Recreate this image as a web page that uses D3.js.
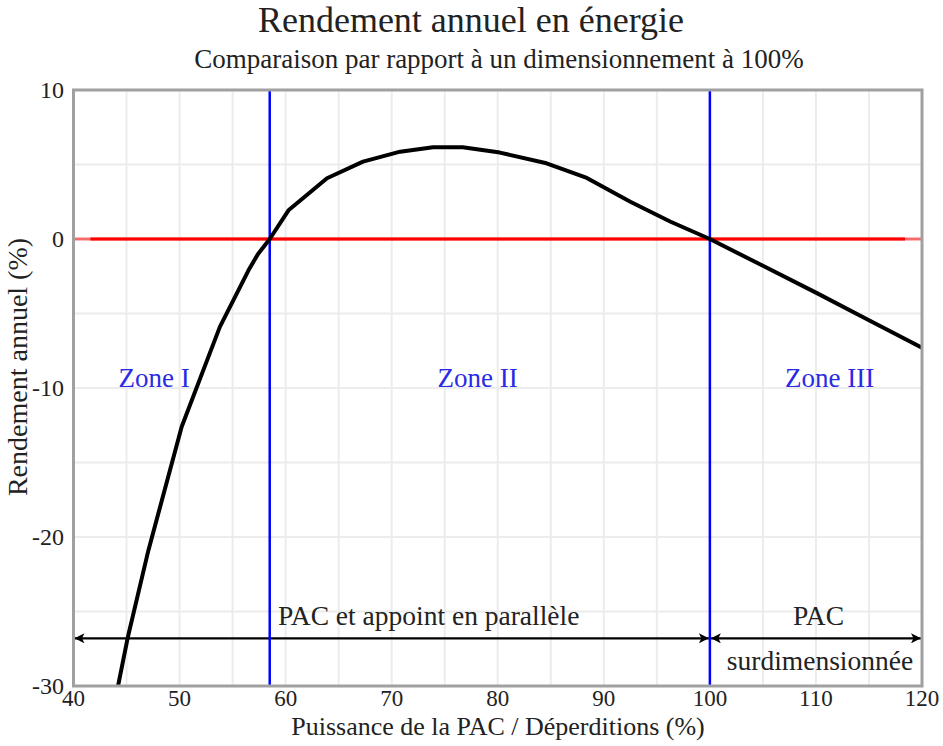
<!DOCTYPE html>
<html><head><meta charset="utf-8">
<script src="https://cdn.jsdelivr.net/npm/d3@7"></script>
<style>body{margin:0;background:#fff}svg{display:block}text{font-family:"Liberation Serif","DejaVu Serif",serif;fill:#222}</style>
</head><body><svg id="c" width="943" height="746"></svg>
<script>
const curveX = [44.2, 45.1, 47.06, 50.2, 53.8, 56.5, 57.4, 58.5, 60.3, 63.9, 67.3, 70.8, 73.9, 76.7, 80.2, 84.6, 88.4, 92.5, 96.3, 100, 105, 110, 115, 120];
const curveY = [-30, -26.8, -20.9, -12.6, -5.9, -2.1, -1.0, 0, 1.95, 4.08, 5.19, 5.86, 6.16, 6.16, 5.8, 5.08, 4.1, 2.5, 1.16, 0, -1.8, -3.6, -5.45, -7.3];
const xTicks = [40, 50, 60, 70, 80, 90, 100, 110, 120];
const yTicks = [10, 0, -10, -20, -30];
const gridX = d3.range(40, 121, 5);
const gridY = d3.range(-30, 11, 5);
const zoneBounds = [58.5, 100];
const zones = [{label: "Zone I", x: 47.6}, {label: "Zone II", x: 78.1}, {label: "Zone III", x: 111.3}];
const zoneY = -9.9;
const arrowY = -26.8;
const arrowSegs = [[40, 100], [100, 120]];

const svg = d3.select("#c");
const L = 73.5, R = 922, T = 90, B = 686;
const x = d3.scaleLinear().domain([40, 120]).range([L, R]);
const y = d3.scaleLinear().domain([-30, 10]).range([B, T]);

// grid
svg.append("g").selectAll("line").data(gridX).join("line")
  .attr("x1", d => x(d)).attr("x2", d => x(d)).attr("y1", T).attr("y2", B)
  .attr("stroke", "#ececec").attr("stroke-width", 2);
svg.append("g").selectAll("line").data(gridY).join("line")
  .attr("y1", d => y(d)).attr("y2", d => y(d)).attr("x1", L).attr("x2", R)
  .attr("stroke", "#ececec").attr("stroke-width", 2);

// red zero line
svg.append("line").attr("x1", L).attr("x2", R).attr("y1", y(0)).attr("y2", y(0))
  .attr("stroke", "#ff0000").attr("stroke-opacity", 0.55).attr("stroke-width", 3);
svg.append("line").attr("x1", x(41.6)).attr("x2", x(118.4)).attr("y1", y(0)).attr("y2", y(0))
  .attr("stroke", "#ff0000").attr("stroke-width", 3);

// arrows
const defs = svg.append("defs");
defs.append("marker").attr("id", "ah").attr("viewBox", "0 0 10 10").attr("refX", 10).attr("refY", 5)
  .attr("markerWidth", 12).attr("markerHeight", 10).attr("markerUnits", "userSpaceOnUse").attr("orient", "auto-start-reverse")
  .append("path").attr("d", "M0,0 L10,5 L0,10 L2.5,5 Z").attr("fill", "#000");
svg.append("g").selectAll("line").data(arrowSegs).join("line")
  .attr("x1", d => x(d[0]) + 1).attr("x2", d => x(d[1]) - 1).attr("y1", y(arrowY)).attr("y2", y(arrowY))
  .attr("stroke", "#000").attr("stroke-width", 2.2)
  .attr("marker-start", "url(#ah)").attr("marker-end", "url(#ah)");

// blue zone lines
svg.append("g").selectAll("line").data(zoneBounds).join("line")
  .attr("x1", d => x(d)).attr("x2", d => x(d)).attr("y1", T).attr("y2", B)
  .attr("stroke", "#0000ff").attr("stroke-width", 2.5);

// curve
const pts = curveX.map((d, i) => [d, curveY[i]]);
svg.append("defs").append("clipPath").attr("id", "clip").append("rect")
  .attr("x", L).attr("y", T).attr("width", R - L).attr("height", B - T);
svg.append("path").datum(pts).attr("clip-path", "url(#clip)")
  .attr("d", d3.line().x(d => x(d[0])).y(d => y(d[1])))
  .attr("fill", "none").attr("stroke", "#000").attr("stroke-width", 4).attr("stroke-linejoin", "round");

// frame
svg.append("rect").attr("x", L).attr("y", T).attr("width", R - L).attr("height", B - T)
  .attr("fill", "none").attr("stroke", "#a0a0a0").attr("stroke-width", 3);

// ticks
svg.append("g").selectAll("text").data(xTicks).join("text")
  .attr("x", d => x(d)).attr("y", 706).attr("text-anchor", "middle").attr("font-size", 23).text(d => d);
svg.append("g").selectAll("text").data(yTicks).join("text")
  .attr("x", 64).attr("y", d => y(d) + 8).attr("text-anchor", "end").attr("font-size", 24).text(d => d);

// zone labels
svg.append("g").selectAll("text").data(zones).join("text")
  .attr("x", d => x(d.x)).attr("y", y(zoneY)).attr("text-anchor", "middle").attr("font-size", 27)
  .style("fill", "#2a2ae6").text(d => d.label);

// arrow labels
svg.append("text").attr("x", 278).attr("y", 625).attr("font-size", 27.5).text("PAC et appoint en parallèle");
svg.append("text").attr("x", 818.5).attr("y", 625).attr("text-anchor", "middle").attr("font-size", 27.5).text("PAC");
svg.append("text").attr("x", 820).attr("y", 670).attr("text-anchor", "middle").attr("font-size", 27.5).text("surdimensionnée");

// titles
svg.append("text").attr("x", 471).attr("y", 32).attr("text-anchor", "middle").attr("font-size", 36).text("Rendement annuel en énergie");
svg.append("text").attr("x", 499).attr("y", 68).attr("text-anchor", "middle").attr("font-size", 27).text("Comparaison par rapport à un dimensionnement à 100%");
svg.append("text").attr("x", 498).attr("y", 735).attr("text-anchor", "middle").attr("font-size", 26).text("Puissance de la PAC / Déperditions (%)");
svg.append("text").attr("transform", "translate(27,367) rotate(-90)").attr("text-anchor", "middle").attr("font-size", 28).text("Rendement annuel (%)");
</script></body></html>
